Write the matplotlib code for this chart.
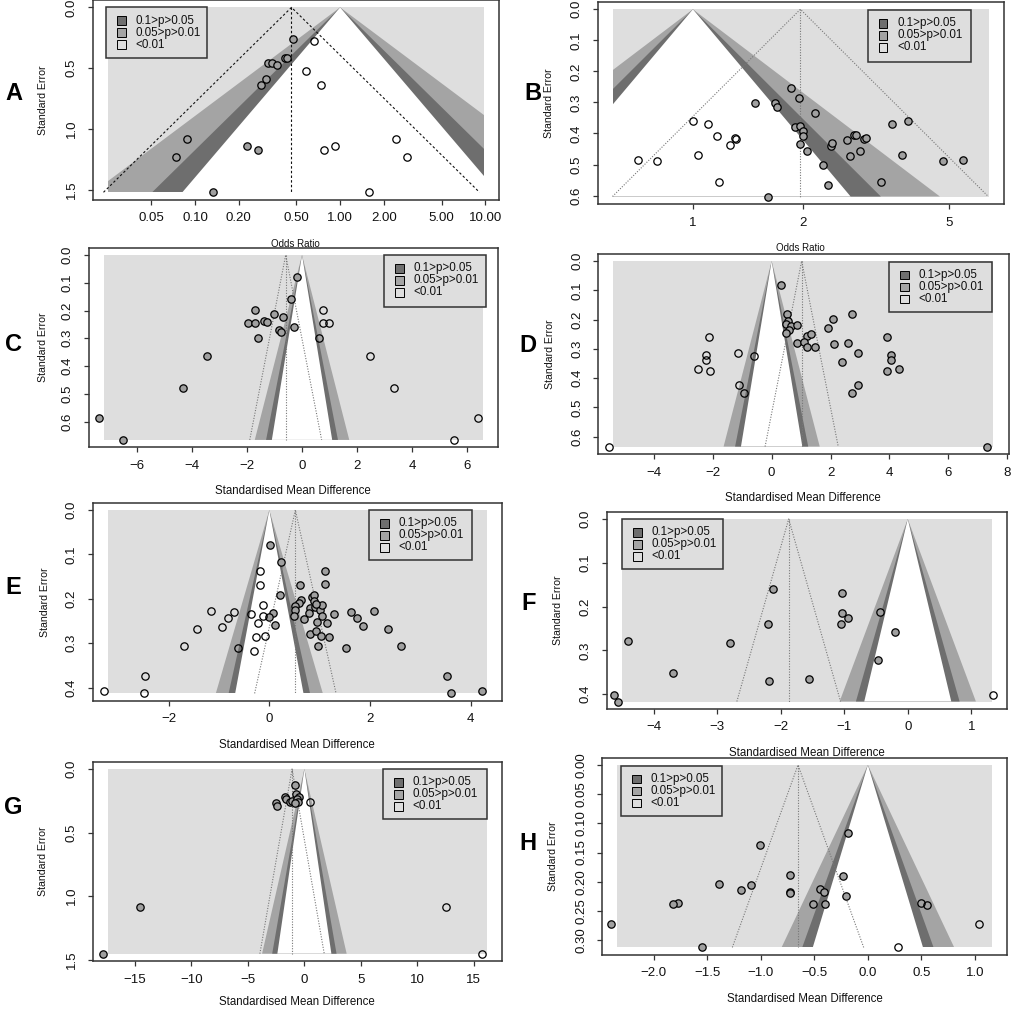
import numpy as np
import matplotlib
matplotlib.use("Agg")
import matplotlib.pyplot as plt
from matplotlib.patches import Rectangle, Polygon
import matplotlib.transforms as mtransforms

plt.rcParams['font.family'] = ['Liberation Sans', 'DejaVu Sans']

# ---------------- data ----------------
legend_labels = ["0.1>p>0.05", "0.05>p>0.01", "<0.01"]
contour_z = [2.576, 1.960, 1.645]          # p = 0.01, 0.05, 0.10

# Panel A (odds ratio)
a_obs_es = [0.475, 0.316, 0.342, 0.370, 0.418, 0.430, 0.308, 0.284, 0.088, 0.0736, 0.230, 0.271, 0.134]
a_obs_se = [0.257, 0.456, 0.456, 0.472, 0.417, 0.420, 0.591, 0.635, 1.080, 1.232, 1.141, 1.177, 1.522]
a_imp_es = [0.666, 0.580, 0.740, 0.776, 0.919, 2.416, 2.876, 1.583]
a_imp_se = [0.276, 0.525, 0.635, 1.177, 1.141, 1.080, 1.232, 1.522]
a_pooled = 0.4624
a_xticks = [0.05, 0.10, 0.20, 0.50, 1.00, 2.00, 5.00, 10.00]
a_xticklabels = ["0.05", "0.10", "0.20", "0.50", "1.00", "2.00", "5.00", "10.00"]
a_yticks = [0.0, 0.5, 1.0, 1.5]
a_yticklabels = ["0.0", "0.5", "1.0", "1.5"]

# Panel B (odds ratio)
b_obs_es = [1.475, 1.607, 1.673, 1.697, 1.854, 1.950, 2.156, 1.897, 1.966, 1.995, 2.000, 1.966,
            2.050, 2.262, 2.345, 2.385, 2.405, 2.642, 2.750, 2.791, 2.688, 2.868, 2.929, 2.972,
            3.267, 3.501, 3.729, 3.864, 4.828, 5.465]
b_obs_se = [0.303, 0.603, 0.303, 0.316, 0.253, 0.286, 0.334, 0.380, 0.377, 0.392, 0.408, 0.433,
            0.458, 0.500, 0.566, 0.440, 0.431, 0.420, 0.405, 0.404, 0.473, 0.458, 0.419, 0.415,
            0.557, 0.3685, 0.469, 0.360, 0.490, 0.487]
b_imp_es = [0.707, 0.800, 1.000, 1.032, 1.101, 1.161, 1.262, 1.300, 1.311, 1.180]
b_imp_se = [0.487, 0.490, 0.360, 0.469, 0.3685, 0.4095, 0.4386, 0.4138, 0.419, 0.557]
b_pooled = 1.966
b_xticks = [1, 2, 5]
b_xticklabels = ["1", "2", "5"]
b_yticks = [0.0, 0.1, 0.2, 0.3, 0.4, 0.5, 0.6]
b_yticklabels = ["0.0", "0.1", "0.2", "0.3", "0.4", "0.5", "0.6"]

# Panel C (SMD)
c_obs_es = [-0.194, -0.412, -1.719, -1.017, -0.702, -1.973, -1.719, -1.392, -1.271, -0.823,
            -0.763, -0.278, -1.610, -3.450, -4.322, -7.373, -6.513]
c_obs_se = [0.080, 0.157, 0.199, 0.211, 0.223, 0.244, 0.244, 0.2365, 0.240, 0.270,
            0.2785, 0.2605, 0.300, 0.3637, 0.480, 0.5858, 0.666]
c_imp_es = [0.630, 0.751, 0.751, 0.993, 2.470, 3.329, 6.392, 5.533]
c_imp_se = [0.300, 0.199, 0.244, 0.244, 0.3637, 0.480, 0.5858, 0.666]
c_pooled = -0.593
c_xticks = [-6, -4, -2, 0, 2, 4, 6]
c_xticklabels = ["\u22126", "\u22124", "\u22122", "0", "2", "4", "6"]
c_yticks = [0.0, 0.1, 0.2, 0.3, 0.4, 0.5, 0.6]
c_yticklabels = ["0.0", "0.1", "0.2", "0.3", "0.4", "0.5", "0.6"]

# Panel D (SMD)
d_obs_es = [0.328, 0.521, 0.566, 0.476, 0.657, 0.872, 0.589, 0.476, 1.200, 1.348, 0.849, 1.087,
            1.189, 1.484, 1.903, 2.095, 2.718, 2.118, 2.605, 2.944, 2.401, 3.930, 4.043, 4.043,
            4.337, 3.907, 2.922, 2.741, 7.327]
d_obs_se = [0.081, 0.180, 0.205, 0.216, 0.221, 0.219, 0.235, 0.247, 0.257, 0.251, 0.279, 0.278,
            0.293, 0.294, 0.228, 0.199, 0.181, 0.282, 0.281, 0.3155, 0.346, 0.2585, 0.322, 0.338,
            0.370, 0.377, 0.425, 0.452, 0.634]
d_imp_es = [-2.118, -2.220, -2.220, -2.514, -2.084, -1.133, -1.110, -0.940, -5.515, -0.600]
d_imp_se = [0.2585, 0.321, 0.338, 0.370, 0.377, 0.3155, 0.425, 0.452, 0.634, 0.3246]
d_pooled = 1.019
d_xticks = [-4, -2, 0, 2, 4, 6, 8]
d_xticklabels = ["\u22124", "\u22122", "0", "2", "4", "6", "8"]
d_yticks = [0.0, 0.1, 0.2, 0.3, 0.4, 0.5, 0.6]
d_yticklabels = ["0.0", "0.1", "0.2", "0.3", "0.4", "0.5", "0.6"]

# Panel E (SMD)
e_obs_es = [0.020, 0.238, 0.212, 0.616, 1.113, 1.113, 0.848, 0.894, 0.881, 0.629, 0.596, 0.517,
            0.503, 0.490, 0.815, 0.795, 0.914, 1.000, 1.053, 0.921, 1.040, 0.695, 1.285, 0.947,
            1.152, 0.815, 0.934, 1.026, 1.185, 0.967, 1.530, 1.623, 1.748, 1.868, 2.073, 2.351,
            2.609, 0.079, 0.000, 0.119, 3.530, 3.609, 4.225]
e_obs_se = [0.0779, 0.1161, 0.1903, 0.1693, 0.1378, 0.1670, 0.1955, 0.1910, 0.2045, 0.2030,
            0.2090, 0.2165, 0.2240, 0.2375, 0.2210, 0.2307, 0.2172, 0.2240, 0.2127, 0.2112,
            0.2382, 0.2457, 0.2345, 0.2524, 0.2547, 0.2787, 0.2727, 0.2846, 0.2854, 0.3056,
            0.3116, 0.2285, 0.2427, 0.2614, 0.2270, 0.2674, 0.3071, 0.2315, 0.2412, 0.2577,
            0.3730, 0.4127, 0.4067]
e_imp_es = [-0.192, -0.185, -0.126, -0.364, -0.126, -0.219, -0.265, -0.093, -0.305, -1.152,
            -0.695, -0.821, -0.947, -1.444, -1.695, -2.470, -2.490, -3.285, -0.616]
e_imp_se = [0.1378, 0.1678, 0.2135, 0.2345, 0.2382, 0.2547, 0.2854, 0.2846, 0.3169, 0.2262,
            0.2292, 0.2427, 0.2629, 0.2674, 0.3071, 0.3730, 0.4127, 0.4067, 0.3116]
e_pooled = 0.517
e_xticks = [-2, 0, 2, 4]
e_xticklabels = ["\u22122", "0", "2", "4"]
e_yticks = [0.0, 0.1, 0.2, 0.3, 0.4]
e_yticklabels = ["0.0", "0.1", "0.2", "0.3", "0.4"]

# Panel F (SMD)
f_obs_es = [-2.123, -1.043, -1.038, -0.938, -1.053, -0.440, -2.206, -0.204, -4.408, -2.793,
            -0.472, -3.695, -2.186, -1.557, -4.628, -4.570]
f_obs_se = [0.161, 0.1687, 0.2153, 0.2267, 0.2389, 0.213, 0.2389, 0.2588, 0.2779, 0.2832,
            0.3214, 0.3519, 0.371, 0.3656, 0.4015, 0.4168]
f_imp_es = [1.347]
f_imp_se = [0.4015]
f_pooled = -1.876
f_xticks = [-4, -3, -2, -1, 0, 1]
f_xticklabels = ["\u22124", "\u22123", "\u22122", "\u22121", "0", "1"]
f_yticks = [0.0, 0.1, 0.2, 0.3, 0.4]
f_yticklabels = ["0.0", "0.1", "0.2", "0.3", "0.4"]

# Panel G (SMD)
g_obs_es = [-0.855, -2.537, -2.389, -1.740, -1.652, -1.298, -1.062, -0.708, -0.501, -0.649,
            -0.590, -0.826, -14.572, -17.788]
g_obs_se = [0.123, 0.265, 0.2885, 0.223, 0.236, 0.257, 0.249, 0.197, 0.218, 0.239,
            0.262, 0.265, 1.088, 1.453]
g_imp_es = [0.531, 12.537, 15.752]
g_imp_se = [0.260, 1.088, 1.453]
g_pooled = -1.09
g_xticks = [-15, -10, -5, 0, 5, 10, 15]
g_xticklabels = ["\u221215", "\u221210", "\u22125", "0", "5", "10", "15"]
g_yticks = [0.0, 0.5, 1.0, 1.5]
g_yticklabels = ["0.0", "0.5", "1.0", "1.5"]

# Panel H (SMD)
h_obs_es = [-0.189, -1.006, -0.724, -0.236, -1.388, -1.090, -1.186, -0.444, -0.410, -0.730,
            -0.730, -0.208, -0.509, -0.401, -1.773, -1.820, -1.550, -2.398]
h_obs_se = [0.1171, 0.1366, 0.188, 0.1909, 0.2034, 0.2063, 0.2149, 0.2131, 0.2177, 0.2171,
            0.220, 0.224, 0.2383, 0.2383, 0.2366, 0.2389, 0.3126, 0.2726]
h_imp_es = [1.040, 0.280, 0.497, 0.550]
h_imp_se = [0.2726, 0.3126, 0.2371, 0.2394]
h_pooled = -0.652
h_xticks = [-2.0, -1.5, -1.0, -0.5, 0.0, 0.5, 1.0]
h_xticklabels = ["\u22122.0", "\u22121.5", "\u22121.0", "\u22120.5", "0.0", "0.5", "1.0"]
h_yticks = [0.0, 0.05, 0.10, 0.15, 0.20, 0.25, 0.30]
h_yticklabels = ["0.00", "0.05", "0.10", "0.15", "0.20", "0.25", "0.30"]

# ---------------- style / layout ----------------
W, H = 1013, 1009
DPI = 100
C_LIGHT = '#dedede'
C_MED = '#a4a4a4'
C_DARK = '#6e6e6e'
C_PT = '#a0a0a0'
C_AX = '#333333'

fig = plt.figure(figsize=(W / DPI, H / DPI), dpi=DPI)


def fx(x):
    return x / W


def fy(y):
    return 1 - y / H


def panel(box, log, obs_es, obs_se, imp_es, imp_se, pooled, xr, xticks, xticklabels,
          yticks, yticklabels, xlabel, xlabel_size, legend_box, letter, letter_pos,
          ylabel_x, dot_color, dot_dash, xlabel_gap=44):
    l, t, r, b = box
    ax = fig.add_axes([fx(l), fy(b), (r - l) / W, (b - t) / H])
    se_max = max(max(obs_se), max(imp_se))
    if log:
        ax.set_xscale('log')
        lo, hi = np.log10(xr[0]), np.log10(xr[1])
        ext = 0.04 * (hi - lo)
        ax.set_xlim(10 ** (lo - ext), 10 ** (hi + ext))
    else:
        ext = 0.04 * (xr[1] - xr[0])
        ax.set_xlim(xr[0] - ext, xr[1] + ext)
    ax.set_ylim(se_max * 1.04, -0.04 * se_max)

    rect = Rectangle((xr[0], 0), xr[1] - xr[0], se_max, facecolor=C_LIGHT,
                     edgecolor='none', zorder=1)
    ax.add_patch(rect)
    for z, col in zip(contour_z, [C_MED, C_DARK, 'white']):
        if log:
            verts = [(1.0, 0), (np.exp(-z * se_max), se_max), (np.exp(z * se_max), se_max)]
        else:
            verts = [(0.0, 0), (-z * se_max, se_max), (z * se_max, se_max)]
        poly = Polygon(verts, closed=True, facecolor=col, edgecolor='none', zorder=2)
        ax.add_patch(poly)
        poly.set_clip_path(rect)

    # pooled estimate and pseudo 95% funnel
    if log:
        c = np.log(pooled)
        x_lo, x_hi = np.exp(c - 1.96 * se_max), np.exp(c + 1.96 * se_max)
    else:
        x_lo, x_hi = pooled - 1.96 * se_max, pooled + 1.96 * se_max
    ax.plot([x_lo, pooled, x_hi], [se_max, 0, se_max], color=dot_color, lw=0.8,
            dashes=dot_dash, zorder=3)
    ax.plot([pooled, pooled], [0, se_max], color=dot_color, lw=0.8, dashes=dot_dash, zorder=3)

    ax.plot(obs_es, obs_se, 'o', ms=5.3, mfc=C_PT, mec='black', mew=0.9, zorder=5)
    ax.plot(imp_es, imp_se, 'o', ms=5.3, mfc='none', mec='black', mew=0.9, zorder=5)

    ax.minorticks_off()
    ax.set_xticks(xticks)
    ax.set_yticks(yticks)
    ax.set_xticklabels([])
    ax.set_yticklabels([])
    ax.minorticks_off()
    ax.tick_params(direction='out', length=3.6, width=0.9, color=C_AX)
    for s in ax.spines.values():
        s.set_color(C_AX)
        s.set_linewidth(1.1)

    tx = mtransforms.blended_transform_factory(ax.transData, ax.transAxes) + \
        mtransforms.ScaledTranslation(0, -18.5 / DPI, fig.dpi_scale_trans)
    for v, lab in zip(xticks, xticklabels):
        ax.text(v, 0, lab, transform=tx, ha='center', va='center', fontsize=9.5,
                color='#111111', clip_on=False)
    ty = mtransforms.blended_transform_factory(ax.transAxes, ax.transData) + \
        mtransforms.ScaledTranslation(-21 / DPI, 0, fig.dpi_scale_trans)
    for v, lab in zip(yticks, yticklabels):
        ax.text(0, v, lab, transform=ty, ha='center', va='center', fontsize=9.5,
                rotation=90, color='#111111', clip_on=False)

    fig.text(fx((l + r) / 2), fy(b + xlabel_gap), xlabel, ha='center', va='center',
             fontsize=xlabel_size, color='#111111')
    fig.text(fx(ylabel_x), fy((t + b) / 2), "Standard Error", ha='center', va='center',
             rotation=90, fontsize=7.6, color='#111111')
    fig.text(fx(letter_pos[0]), fy(letter_pos[1]), letter, ha='center', va='center',
             fontsize=17, fontweight='bold', color='black')

    # legend
    lx0, ly0, lx1, ly1 = legend_box
    fig.add_artist(Rectangle((fx(lx0), fy(ly1)), (lx1 - lx0) / W, (ly1 - ly0) / H,
                             transform=fig.transFigure, facecolor=C_LIGHT,
                             edgecolor=C_AX, lw=1.1, zorder=10))
    for i, (lab, col) in enumerate(zip(legend_labels, [C_DARK, C_MED, C_LIGHT])):
        yc = ly0 + 13.4 + 12 * i
        fig.add_artist(Rectangle((fx(lx0 + 11), fy(yc + 4.3)), 8.6 / W, 8.6 / H,
                                 transform=fig.transFigure, facecolor=col,
                                 edgecolor='black', lw=0.7, zorder=11))
        fig.text(fx(lx0 + 29.5), fy(yc), lab, ha='left', va='center', fontsize=8.4,
                 color='#111111', zorder=12)
    return ax


DOT_A = (2.2, 2.0)
DOT = (1.0, 1.4)
SMD = "Standardised Mean Difference"

panel((92.7, 0, 499, 199.7), True, a_obs_es, a_obs_se, a_imp_es, a_imp_se, a_pooled,
      (0.02505, 9.80), a_xticks, a_xticklabels, a_yticks, a_yticklabels,
      "Odds Ratio", 7.0, (106, 7.3, 207, 57.7), "A", (13.5, 93.5), 43, '#111111', DOT_A)
panel((597.7, 1.8, 1004, 204), True, b_obs_es, b_obs_se, b_imp_es, b_imp_se, b_pooled,
      (0.604, 6.436), b_xticks, b_xticklabels, b_yticks, b_yticklabels,
      "Odds Ratio", 7.0, (867.7, 10, 971, 61.7), "B", (533, 94), 549, '#777777', DOT)
panel((88.9, 247.6, 497.8, 447.3), False, c_obs_es, c_obs_se, c_imp_es, c_imp_se, c_pooled,
      (-7.19, 6.56), c_xticks, c_xticklabels, c_yticks, c_yticklabels,
      SMD, 8.3, (384.3, 255, 486, 306.7), "C", (13.5, 344.5), 43.3, '#777777', DOT)
panel((598.1, 253.6, 1008.5, 454), False, d_obs_es, d_obs_se, d_imp_es, d_imp_se, d_pooled,
      (-5.38, 7.53), d_xticks, d_xticklabels, d_yticks, d_yticklabels,
      SMD, 8.3, (889.3, 261.7, 991.7, 312.3), "D", (528.3, 345.3), 550, '#777777', DOT)
panel((92.5, 502.7, 501.8, 700.7), False, e_obs_es, e_obs_se, e_imp_es, e_imp_se, e_pooled,
      (-3.212, 4.318), e_xticks, e_xticklabels, e_yticks, e_yticklabels,
      SMD, 8.3, (369.3, 510, 471.7, 560), "E", (13.3, 587.5), 45, '#777777', DOT)
panel((606.7, 511.7, 1007, 708.8), False, f_obs_es, f_obs_se, f_imp_es, f_imp_se, f_pooled,
      (-4.51, 1.33), f_xticks, f_xticklabels, f_yticks, f_yticklabels,
      SMD, 8.3, (622.3, 519, 723.3, 569.3), "F", (528.3, 604), 558.3, '#777777', DOT)
panel((92.6, 761.6, 501.9, 961.1), False, g_obs_es, g_obs_se, g_imp_es, g_imp_se, g_pooled,
      (-17.4, 16.14), g_xticks, g_xticklabels, g_yticks, g_yticklabels,
      SMD, 8.3, (383.3, 769, 486.7, 819.3), "G", (13.3, 807.5), 43.3, '#777777', DOT,
      xlabel_gap=40.5)
panel((602.3, 757.7, 1007, 954.7), False, h_obs_es, h_obs_se, h_imp_es, h_imp_se, h_pooled,
      (-2.338, 1.158), h_xticks, h_xticklabels, h_yticks, h_yticklabels,
      SMD, 8.3, (621, 765.7, 722.3, 815.7), "H", (528.3, 843), 553.3, '#777777', DOT)

fig.savefig("out.png", dpi=DPI)
